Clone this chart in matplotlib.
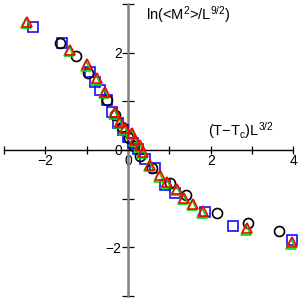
import matplotlib
matplotlib.use("Agg")
import matplotlib.pyplot as plt
from matplotlib.ticker import MultipleLocator

plt.rcParams['font.family'] = ['Liberation Sans', 'DejaVu Sans']
plt.rcParams['mathtext.fontset'] = 'custom'
plt.rcParams['mathtext.rm'] = 'Liberation Sans'
plt.rcParams['mathtext.it'] = 'Liberation Sans'

# black circles
circ_x = [-1.65, -1.26, -0.97, -0.51, -0.31, -0.15, 0.02, 0.15, 0.30, 0.58, 1.02, 1.40, 2.15, 2.90, 3.66]
circ_y = [2.21, 1.94, 1.59, 1.03, 0.72, 0.47, 0.25, 0.08, -0.12, -0.37, -0.68, -0.93, -1.29, -1.50, -1.67]

# blue squares
sq_x = [-2.30, -1.60, -0.92, -0.80, -0.68, -0.51, -0.39, -0.24, -0.12, 0.00, 0.12, 0.24, 0.40, 0.65, 0.90, 1.14, 1.86, 2.54, 3.97]
sq_y = [2.54, 2.21, 1.61, 1.40, 1.24, 1.03, 0.78, 0.56, 0.41, 0.27, 0.14, 0.02, -0.18, -0.37, -0.72, -0.89, -1.28, -1.57, -1.86]

# red triangles
tri_x = [-2.45, -1.40, -0.99, -0.75, -0.56, -0.31, -0.19, -0.07, 0.10, 0.17, 0.29, 0.36, 0.53, 0.77, 0.94, 1.19, 1.36, 1.57, 1.82, 2.88, 3.97]
tri_y = [2.64, 2.06, 1.77, 1.48, 1.20, 0.78, 0.58, 0.45, 0.35, 0.21, 0.10, -0.04, -0.31, -0.52, -0.66, -0.80, -0.99, -1.11, -1.26, -1.61, -1.90]

# green markers (mostly hidden under the triangles)
grn_x = [-2.47, -1.42, -1.01, -0.77, -0.58, -0.33, -0.21, -0.09, 0.08, 0.15, 0.27, 0.34, 0.51, 0.75, 0.92, 1.17, 1.34, 1.55, 1.80, 2.86, 3.95]
grn_y = [2.61, 2.03, 1.74, 1.45, 1.17, 0.75, 0.55, 0.42, 0.32, 0.18, 0.07, -0.07, -0.34, -0.55, -0.69, -0.83, -1.02, -1.14, -1.29, -1.64, -1.93]

x_major = [-2, 0, 2, 4]
y_major = [-2, 0, 2]

W, H = 300, 299
fig = plt.figure(figsize=(W / 100, H / 100), dpi=100)
ax = fig.add_axes([0, 0, 1, 1])
ax.set_xlim(-3.10, 4.16)
ax.set_ylim(-3.07, 3.09)

ms = 7.2
mew = 1.2
ax.plot(sq_x, sq_y, 's', ms=ms, mfc='none', mec='#1010ff', mew=mew, zorder=3)
ax.plot(circ_x, circ_y, 'o', ms=ms, mfc='none', mec='black', mew=mew, zorder=4)
ax.plot(grn_x, grn_y, '^', ms=ms, mfc='none', mec='#00dd00', mew=mew, zorder=5)
ax.plot(tri_x, tri_y, '^', ms=ms, mfc='none', mec='red', mew=mew, zorder=6)

for s in ['top', 'right']:
    ax.spines[s].set_visible(False)
ax.spines['left'].set_position(('data', 0))
ax.spines['bottom'].set_position(('data', 0))
ax.spines['left'].set_color('#808080')
ax.spines['left'].set_linewidth(1.8)
ax.spines['left'].set_bounds(-3, 3)
ax.spines['bottom'].set_color('black')
ax.spines['bottom'].set_linewidth(1.0)
ax.spines['bottom'].set_bounds(-3, 4)

ax.xaxis.set_major_locator(plt.FixedLocator(x_major))
ax.xaxis.set_minor_locator(MultipleLocator(1))
ax.yaxis.set_major_locator(plt.FixedLocator(y_major))
ax.yaxis.set_minor_locator(MultipleLocator(1))
ax.tick_params(axis='x', which='both', direction='inout', length=6, width=0.9,
               color='black', labelsize=10, pad=0)
ax.tick_params(axis='y', which='both', direction='inout', length=9, width=0.9,
               color='black', labelsize=10, pad=0)
ax.set_xticklabels([str(v).replace('-', '\u2212') for v in x_major])
ax.set_yticklabels([str(v).replace('-', '\u2212') for v in y_major])

ax.text(146 / W, 1 - 15 / H, r'ln(<M$^2$>/L$^{9/2}$)', transform=fig.transFigure,
        fontsize=10.5, ha='left', va='center')
ax.text(208 / W, 1 - 131 / H, r'(T$-$T$_\mathrm{c}$)L$^{3/2}$', transform=fig.transFigure,
        fontsize=10.5, ha='left', va='center')

fig.savefig('out.png', dpi=100)
